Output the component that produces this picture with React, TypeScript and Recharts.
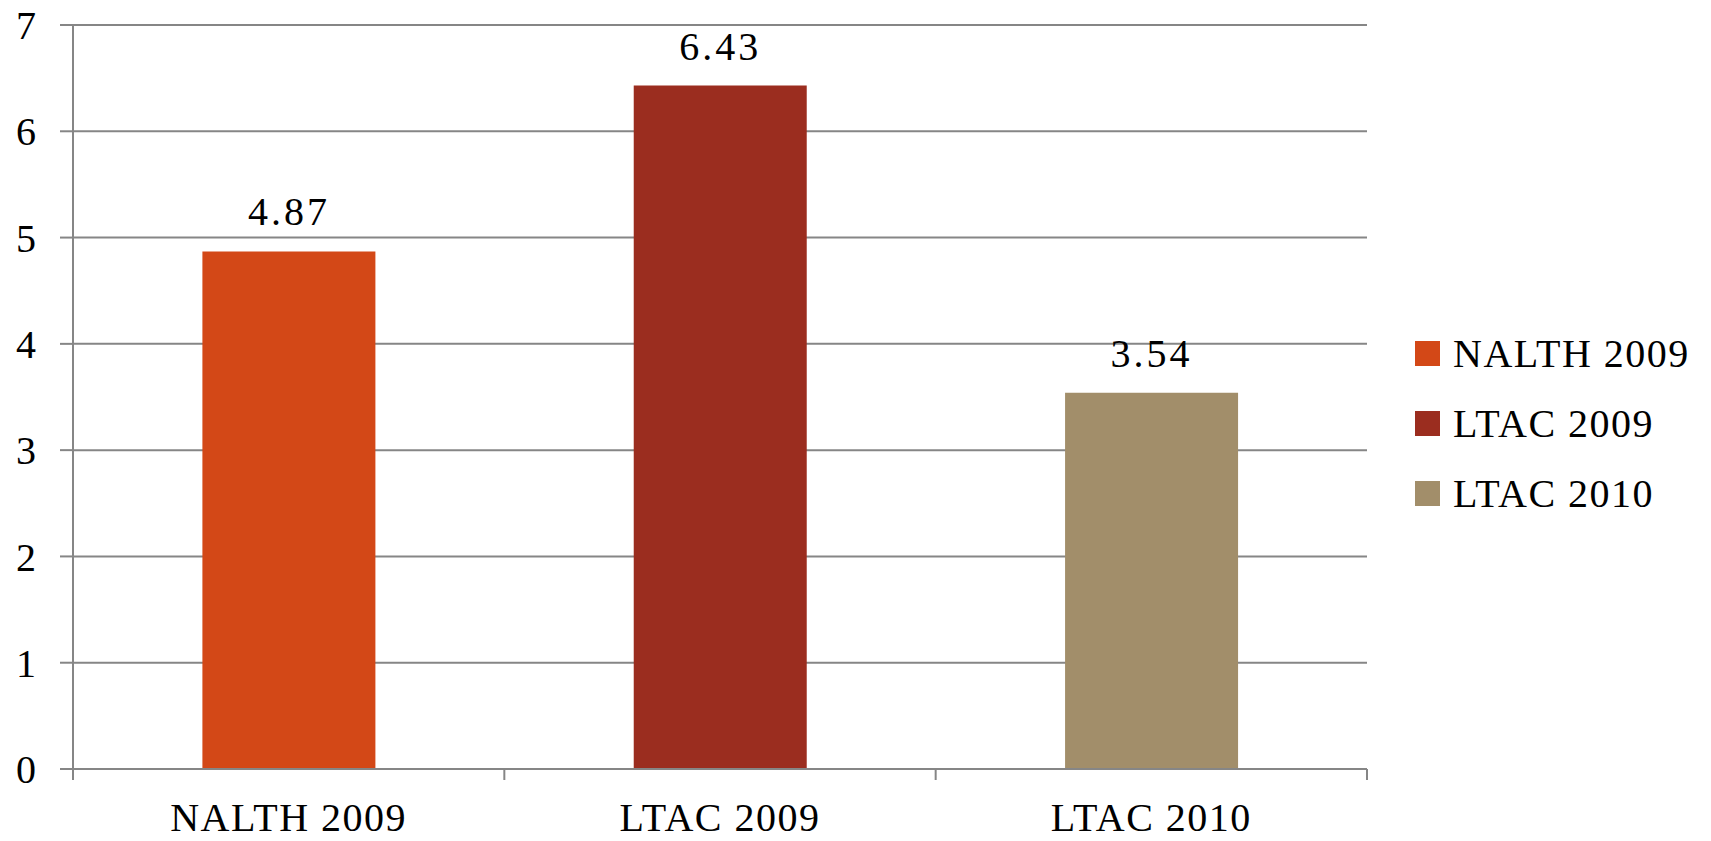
import React from 'react';
import {
  BarChart,
  Bar,
  Cell,
  XAxis,
  YAxis,
  CartesianGrid,
  Legend,
  LabelList,
} from 'recharts';

const categories = ['NALTH 2009', 'LTAC 2009', 'LTAC 2010'];
const rates = [4.87, 6.43, 3.54];
const colors = ['#D34817', '#9B2D1F', '#A28E6A'];
const yTicks = [0, 1, 2, 3, 4, 5, 6, 7];

const data = categories.map((name, i) => ({ name, value: rates[i] }));

const FONT = '"Liberation Serif", "Times New Roman", serif';
const GRID = '#868686';

const LegendBox = () => (
  <div style={{ fontFamily: FONT, fontSize: 40, color: '#000', letterSpacing: 1.5 }}>
    {categories.map((c, i) => (
      <div key={c} style={{ display: 'flex', alignItems: 'center', height: 70 }}>
        <span style={{ width: 25, height: 25, background: colors[i], marginRight: 13, display: 'inline-block' }} />
        <span>{c}</span>
      </div>
    ))}
  </div>
);

// category label plus tick marks on the band edges (Excel style)
const CategoryTick = (props: any) => {
  const { x, y, payload, index, visibleTicksCount } = props;
  const half = payload.offset || 0;
  const last = index === visibleTicksCount - 1;
  return (
    <g>
      <line x1={x - half} x2={x - half} y1={y} y2={y + 11} stroke={GRID} strokeWidth={2} />
      {last && <line x1={x + half} x2={x + half} y1={y} y2={y + 11} stroke={GRID} strokeWidth={2} />}
      <text
        x={x}
        y={y + 34}
        dy="0.71em"
        textAnchor="middle"
        fill="#000"
        fontSize={40}
        fontFamily={FONT}
        letterSpacing={1.5}
      >
        {payload.value}
      </text>
    </g>
  );
};

const App: React.FC = () => {
  return (
    <div style={{ position: 'absolute', left: 0, top: 0, width: 1711, height: 841, background: '#fff' }}>
      <BarChart
        width={1711}
        height={841}
        data={data}
        margin={{ top: 25, right: 344, bottom: 0, left: 0 }}
        barCategoryGap="30%"
      >
        <CartesianGrid vertical={false} stroke={GRID} strokeWidth={2} />
        <XAxis
          dataKey="name"
          stroke={GRID}
          strokeWidth={2}
          tickLine={false}
          tickSize={0}
          tickMargin={0}
          height={72}
          interval={0}
          tick={<CategoryTick />}
        />
        <YAxis
          width={73}
          domain={[0, 7]}
          ticks={yTicks}
          interval={0}
          stroke={GRID}
          strokeWidth={2}
          tickSize={13}
          tickMargin={24}
          tick={{ fill: '#000', fontSize: 40, fontFamily: FONT }}
        />
        <Legend
          layout="horizontal"
          verticalAlign="middle"
          align="center"
          content={<LegendBox />}
          wrapperStyle={{ left: 1415, top: 318, width: 296 }}
        />
        <Bar dataKey="value" isAnimationActive={false}>
          {data.map((d, i) => (
            <Cell key={d.name} fill={colors[i]} />
          ))}
          <LabelList
            dataKey="value"
            position="top"
            offset={26}
            formatter={(v: number) => v.toFixed(2)}
            style={{ fill: '#000', fontSize: 40, fontFamily: FONT, letterSpacing: 3 }}
          />
        </Bar>
      </BarChart>
    </div>
  );
};

export default App;
